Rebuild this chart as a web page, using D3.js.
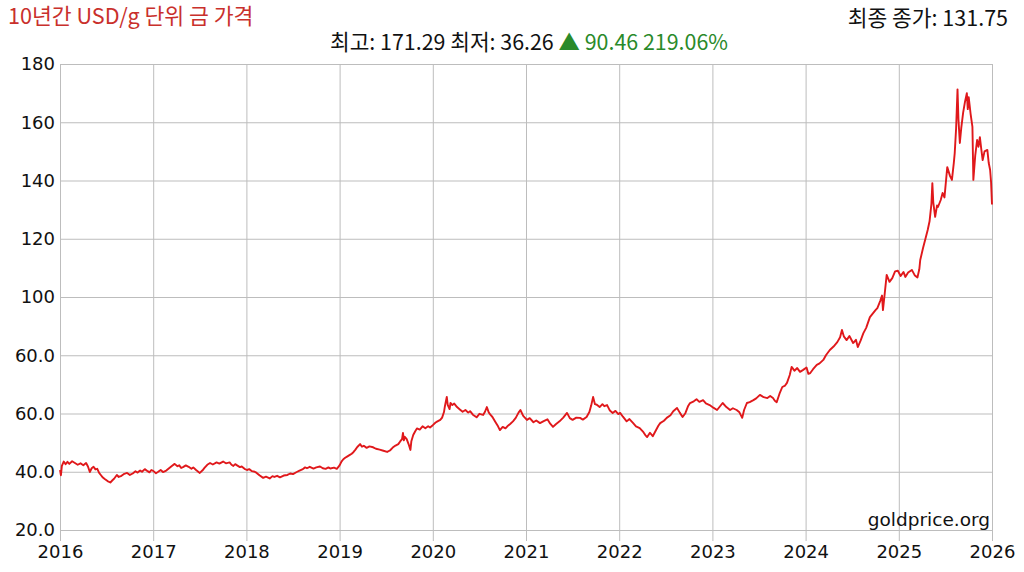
<!DOCTYPE html>
<html>
<head>
<meta charset="utf-8">
<script src="https://cdn.jsdelivr.net/npm/d3@7/dist/d3.min.js"></script>
<style>
  html, body { margin: 0; padding: 0; background: #fff; }
  svg { display: block; }
</style>
</head>
<body>
<svg id="chart" width="1024" height="572"></svg>
<script>
// ---- data (one line per year) ----
const dates = [
  2016.00,2016.01,2016.02,2016.04,2016.06,2016.08,2016.10,2016.13,2016.16,2016.19,2016.22,2016.25,2016.28,2016.30,2016.32,2016.34,2016.36,2016.38,2016.40,2016.42,2016.44,2016.46,2016.48,2016.51,2016.54,2016.56,2016.58,2016.61,2016.63,2016.66,2016.69,2016.72,2016.75,2016.78,2016.81,2016.83,2016.86,2016.88,2016.91,2016.94,2016.96,2016.98,
  2017.00,2017.03,2017.05,2017.08,2017.105,2017.14,2017.17,2017.20,2017.23,2017.26,2017.28,2017.30,2017.32,2017.35,2017.38,2017.41,2017.43,2017.46,2017.50,2017.53,2017.55,2017.58,2017.61,2017.64,2017.68,2017.71,2017.75,2017.78,2017.82,2017.84,2017.86,2017.88,2017.90,2017.93,2017.95,2017.98,
  2018.006,2018.03,2018.06,2018.09,2018.11,2018.14,2018.18,2018.21,2018.25,2018.28,2018.30,2018.33,2018.36,2018.40,2018.44,2018.47,2018.50,2018.54,2018.57,2018.60,2018.63,2018.65,2018.68,2018.72,2018.75,2018.79,2018.82,2018.85,2018.88,2018.90,2018.94,2018.97,
  2019.00,2019.02,2019.04,2019.06,2019.08,2019.11,2019.13,2019.15,2019.17,2019.19,2019.22,2019.24,2019.26,2019.29,2019.32,2019.36,2019.39,2019.43,2019.47,2019.51,2019.54,2019.57,2019.60,2019.63,2019.65,2019.67,2019.68,2019.69,2019.70,2019.72,2019.74,2019.76,2019.77,2019.79,2019.81,2019.83,2019.86,2019.89,2019.92,2019.95,2019.97,
  2020.00,2020.03,2020.05,2020.08,2020.10,2020.12,2020.13,2020.15,2020.16,2020.18,2020.19,2020.21,2020.23,2020.26,2020.29,2020.32,2020.35,2020.38,2020.40,2020.43,2020.47,2020.50,2020.54,2020.56,2020.58,2020.60,2020.62,2020.64,2020.67,2020.70,2020.72,2020.75,2020.78,2020.80,2020.83,2020.86,2020.89,2020.92,2020.94,2020.97,
  2021.01,2021.04,2021.08,2021.11,2021.15,2021.19,2021.23,2021.26,2021.29,2021.32,2021.36,2021.40,2021.44,2021.47,2021.50,2021.54,2021.58,2021.61,2021.65,2021.68,2021.70,2021.72,2021.74,2021.76,2021.79,2021.82,2021.84,2021.87,2021.90,2021.93,2021.96,2021.99,
  2022.01,2022.04,2022.08,2022.11,2022.15,2022.18,2022.22,2022.26,2022.28,2022.30,2022.33,2022.36,2022.39,2022.42,2022.44,2022.48,2022.51,2022.55,2022.58,2022.62,2022.65,2022.68,2022.71,2022.74,2022.76,2022.80,2022.83,2022.86,2022.90,2022.93,2022.97,
  2023.01,2023.05,2023.08,2023.11,2023.15,2023.19,2023.22,2023.26,2023.29,2023.32,2023.34,2023.37,2023.40,2023.44,2023.47,2023.51,2023.55,2023.59,2023.62,2023.65,2023.67,2023.69,2023.72,2023.75,2023.78,2023.80,2023.83,2023.85,2023.88,2023.91,2023.94,2023.97,
  2024.01,2024.03,2024.05,2024.08,2024.12,2024.15,2024.19,2024.22,2024.26,2024.30,2024.34,2024.37,2024.39,2024.41,2024.44,2024.47,2024.51,2024.54,2024.56,2024.59,2024.62,2024.65,2024.69,2024.72,2024.75,2024.77,2024.80,2024.82,2024.83,2024.85,2024.87,2024.90,2024.93,2024.96,2024.99,
  2025.02,2025.05,2025.07,2025.10,2025.14,2025.17,2025.20,2025.22,2025.23,2025.26,2025.29,2025.31,2025.33,2025.35,2025.36,2025.37,2025.39,2025.41,2025.42,2025.45,2025.47,2025.49,2025.52,2025.55,2025.57,2025.59,2025.60,2025.615,2025.63,2025.64,2025.655,2025.67,2025.69,2025.71,2025.73,2025.74,2025.75,2025.77,2025.79,2025.80,2025.82,2025.84,2025.855,2025.87,2025.885,2025.90,2025.92,2025.95,2025.965,2025.98,2025.99,2026.00
];
const prices = [
  40.6,38.8,42.0,43.5,42.6,43.4,42.7,43.6,43.0,42.4,42.9,42.2,43.0,41.8,39.9,41.2,41.7,40.8,41.0,39.6,38.8,38.0,37.5,36.8,36.3,37.0,37.6,38.9,38.2,38.6,39.3,39.6,38.9,39.4,40.2,39.7,40.4,40.0,40.9,40.2,39.8,40.6,
  40.3,39.5,39.9,40.6,39.9,40.4,41.2,42.0,42.7,41.9,42.2,41.3,41.6,42.2,41.7,41.0,41.5,40.6,39.6,40.5,41.3,42.4,43.0,42.5,43.2,42.8,43.5,42.9,43.2,42.4,42.0,42.6,42.2,41.6,41.8,41.0,
  40.6,40.9,40.2,40.0,39.6,38.8,37.9,38.3,37.7,38.5,38.2,38.6,38.1,38.7,38.9,39.4,39.2,39.9,40.4,40.8,41.5,41.2,41.7,41.1,41.5,41.8,41.2,41.0,41.5,41.1,41.4,41.0,
  42.2,43.5,44.3,44.8,45.2,45.8,46.2,46.8,47.6,48.5,49.5,48.6,48.9,48.2,48.7,48.4,47.9,47.6,47.2,46.8,47.3,48.3,49.0,49.5,50.4,51.2,53.3,50.8,52.0,51.2,49.5,47.5,50.5,52.6,53.8,54.9,54.5,55.6,54.9,55.6,55.2,
  56.0,56.9,57.3,57.8,58.6,60.5,62.5,65.7,63.0,61.5,63.6,62.9,63.4,62.2,61.4,60.6,61.2,60.3,60.8,59.6,58.7,59.9,59.5,60.6,62.2,60.4,59.5,58.8,57.2,55.6,54.3,55.4,54.9,55.6,56.4,57.3,58.5,60.3,61.2,59.2,
  57.8,58.4,57.0,57.6,56.7,57.4,58.0,56.5,55.4,56.3,57.3,58.6,60.2,58.4,57.8,58.6,58.5,57.9,58.8,60.5,62.8,65.7,63.2,63.0,62.2,63.2,62.5,62.9,61.0,60.2,60.9,59.8,
  60.2,58.9,57.3,58.1,56.7,55.6,55.0,53.6,52.6,51.9,53.4,52.2,54.0,55.8,56.7,57.5,58.5,59.4,60.8,61.9,60.3,58.8,60.1,62.6,63.6,64.2,64.9,64.0,64.6,63.5,62.9,
  62.0,61.2,62.4,63.6,62.2,61.2,61.8,61.2,60.4,58.5,61.2,63.6,63.9,64.6,65.2,66.4,65.6,65.3,66.0,65.3,64.4,63.9,66.8,69.1,69.6,70.5,73.2,76.0,74.7,75.6,74.3,74.9,
  75.8,73.6,73.9,75.2,76.7,77.2,78.4,80.1,81.8,83.0,84.5,86.2,88.7,86.5,85.2,86.6,84.2,85.3,82.8,85.0,87.6,89.4,93.1,94.3,95.5,96.2,98.6,100.5,95.5,101.5,107.6,105.2,106.5,108.8,109.0,
  107.2,108.6,106.9,108.4,109.3,107.5,106.7,109.5,112.7,116.8,120.5,123.0,126.0,132.0,139.1,132.5,127.5,131.4,130.9,133.3,135.7,134.2,144.6,141.5,140.2,146.0,149.4,158.0,171.29,161.0,152.9,158.0,163.2,167.0,170.0,164.5,168.6,163.0,158.4,140.2,148.5,153.9,151.6,154.9,150.8,147.0,150.0,150.5,146.0,143.6,139.5,131.75
];
const yTickValues = [20, 40, 60, 80, 100, 120, 140, 160, 180];
const yTickLabels = ["20.0", "40.0", "60.0", "60.0", "100", "120", "140", "160", "180"];
const xTickYears = [2016, 2017, 2018, 2019, 2020, 2021, 2022, 2023, 2024, 2025, 2026];
const titleText = "10년간 USD/g 단위 금 가격";
const lastCloseText = "최종 종가: 131.75";
const statsText = "최고: 171.29 최저: 36.26";
const changeText = "▲ 90.46 219.06%";
const sourceText = "goldprice.org";

// ---- drawing ----
const svg = d3.select("#chart");
const plotLeft = 60, plotRight = 992, plotTop = 64, plotBottom = 530;

const x = d3.scaleLinear().domain([2016, 2026]).range([plotLeft, plotRight]);
const y = d3.scaleLinear().domain([20, 180]).range([plotBottom, plotTop]);

const tickFont = "'DejaVu Sans', Verdana, sans-serif";
const gridColor = "#bdbdbd";

// y axis with gridlines
const yAxis = d3.axisLeft(y)
  .tickValues(yTickValues)
  .tickFormat((d, i) => yTickLabels[i])
  .tickSize(-(plotRight - plotLeft))
  .tickPadding(5);
const gy = svg.append("g").attr("transform", `translate(${plotLeft},0)`).call(yAxis);
gy.select(".domain").remove();
gy.selectAll(".tick line").attr("stroke", gridColor).attr("stroke-width", 1);
gy.selectAll(".tick text")
  .attr("fill", "#111").style("font-family", tickFont).style("font-size", "18px");

// x axis with gridlines extending below the plot
const xBase = 541;
const xAxis = d3.axisBottom(x)
  .tickValues(xTickYears)
  .tickFormat(d3.format("d"))
  .tickSize(-(xBase - plotTop))
  .tickPadding(4);
const gx = svg.append("g").attr("transform", `translate(0,${xBase})`).call(xAxis);
gx.select(".domain").remove();
gx.selectAll(".tick line").attr("stroke", gridColor).attr("stroke-width", 1);
gx.selectAll(".tick text")
  .attr("fill", "#111").style("font-family", tickFont).style("font-size", "18px");

// price line
const n = Math.min(dates.length, prices.length);
const data = d3.range(n).map(i => ({ t: dates[i], v: prices[i] }));
const line = d3.line().x(d => x(d.t)).y(d => y(d.v));
svg.append("path")
  .datum(data)
  .attr("d", line)
  .attr("fill", "none")
  .attr("stroke", "#e0181b")
  .attr("stroke-width", 1.9)
  .attr("stroke-linejoin", "round");

// header texts
const cjk = "'Noto Sans CJK KR', 'Noto Sans', sans-serif";
svg.append("text")
  .attr("x", 8).attr("y", 24)
  .style("font-family", cjk).style("font-size", "21.6px")
  .attr("fill", "#c9302c")
  .text(titleText);

svg.append("text")
  .attr("x", 1008).attr("y", 26)
  .attr("text-anchor", "end")
  .style("font-family", cjk).style("font-size", "21.5px")
  .attr("fill", "#111")
  .text(lastCloseText);

const sub = svg.append("text")
  .attr("x", 529).attr("y", 50)
  .attr("text-anchor", "middle")
  .style("font-family", cjk).style("font-size", "21.4px")
  .attr("fill", "#111");
sub.append("tspan").text(statsText + " ");
sub.append("tspan").attr("fill", "#2a8a2a").text(changeText);

svg.append("text")
  .attr("x", 990).attr("y", 526)
  .attr("text-anchor", "end")
  .style("font-family", tickFont).style("font-size", "18.5px")
  .attr("fill", "#111")
  .text(sourceText);
</script>
</body>
</html>
